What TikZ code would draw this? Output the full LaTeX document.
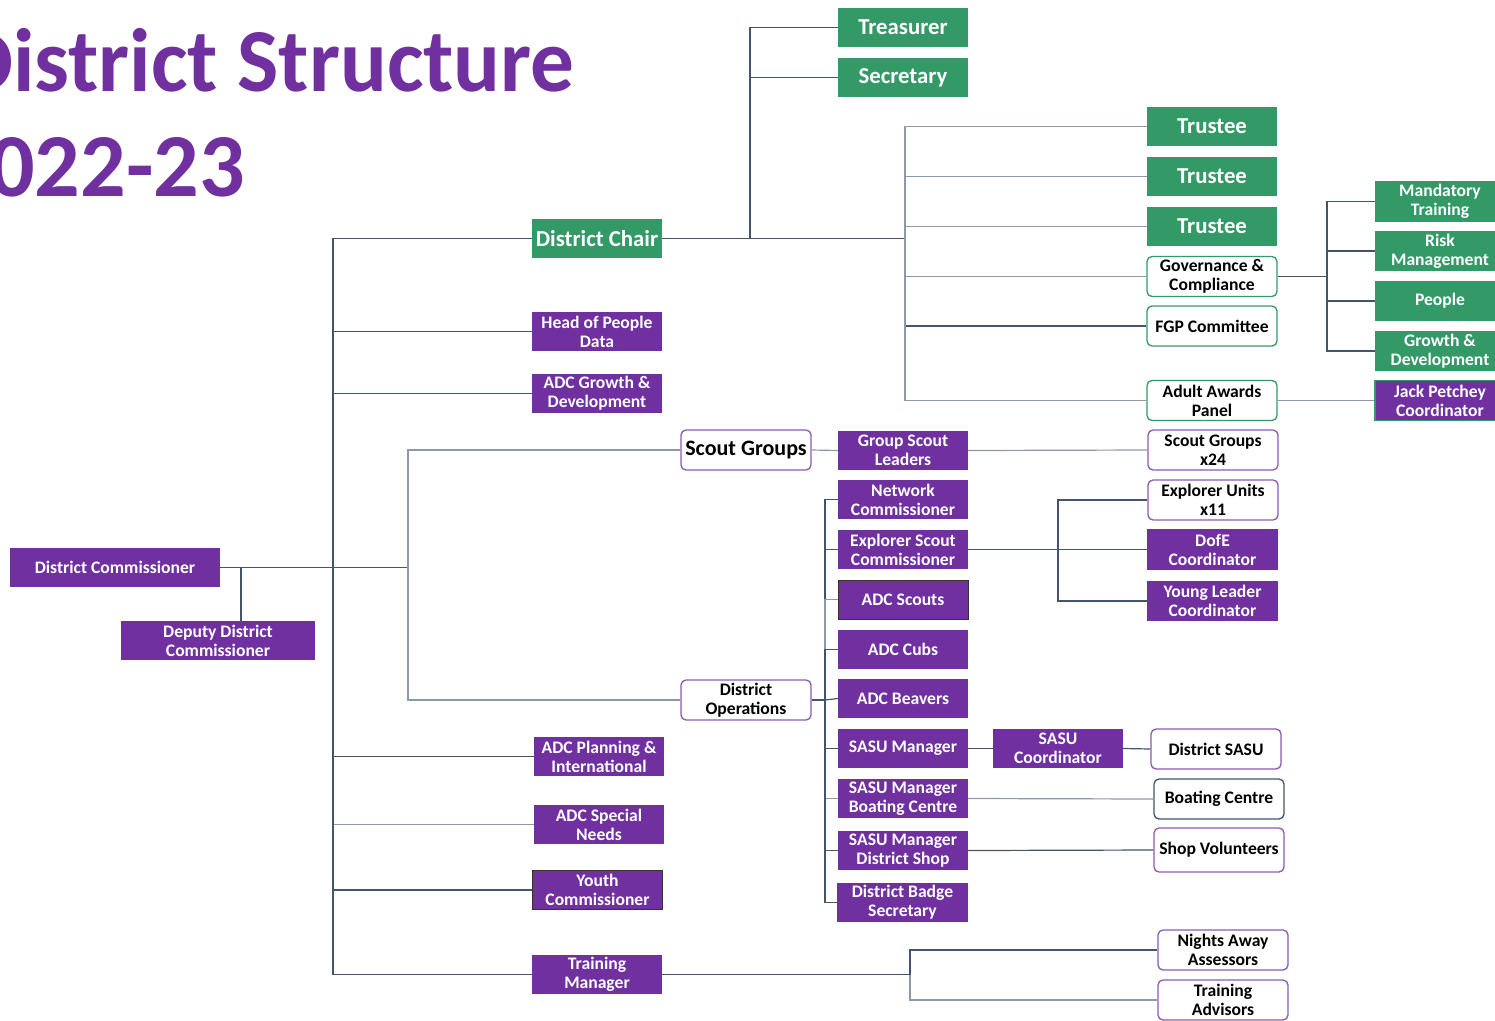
\documentclass[tikz,border=0pt]{standalone}
\usepackage{fontspec}
\setmainfont{Carlito}
\usepackage{xcolor}
\usetikzlibrary{positioning}

\definecolor{scoutpurple}{HTML}{7030A0}
\definecolor{scoutgreen}{HTML}{339966}
\definecolor{linkdark}{HTML}{44546A}
\definecolor{linkgrey}{HTML}{8C99AA}

\tikzset{
  box/.style={minimum width=130, minimum height=39, inner sep=0pt, align=center,
    font=\bfseries\fontsize{17.6}{19}\selectfont},
  role/.style={box, fill=scoutpurple, text=white},
  rolelined/.style={role, draw=black!80, line width=1pt},
  board/.style={box, fill=scoutgreen, text=white},
  boardbig/.style={board, font=\bfseries\fontsize{22.8}{24}\selectfont},
  unit/.style={box, fill=white, draw=scoutpurple!80, line width=1.3pt, rounded corners=5pt, text=black, minimum height=40},
  unitgreen/.style={unit, draw=scoutgreen},
  link/.style={draw=linkdark, line width=1.2pt},
  linklight/.style={draw=linkgrey, line width=1.2pt}
}

\begin{document}
\begin{tikzpicture}[x=1pt,y=-1pt]
\useasboundingbox (0,0) rectangle (1495,1020);
\clip (0,0) rectangle (1495,1020);

% title
\node[anchor=base east, inner sep=0pt, text=scoutpurple, font=\bfseries\fontsize{90}{105}\selectfont] (title) at (575,91) {\scalebox{0.97}[1]{District Structure}};
\node[anchor=base east, inner sep=0pt, text=scoutpurple, font=\bfseries\fontsize{90}{105}\selectfont] (year) at (245,196) {2022-23};

% commissioner
\node[role, minimum width=210] (dc) at (115,567.5) {District Commissioner};
\node[role, minimum width=194] (ddc) at (218,640.5) {Deputy District\\Commissioner};

% chair and board
\node[boardbig] (chair) at (597,238.5) {District Chair};
\node[boardbig] (treas) at (903,27.5) {Treasurer};
\node[boardbig] (sec) at (903,77.5) {Secretary};
\node[boardbig] (trustA) at (1212,126.5) {Trustee};
\node[boardbig] (trustB) at (1212,176.5) {Trustee};
\node[boardbig] (trustC) at (1212,226.5) {Trustee};
\node[unitgreen] (gov) at (1212,276.5) {Governance \&\\Compliance};
\node[unitgreen] (fgp) at (1212,326) {FGP Committee};
\node[unitgreen] (awards) at (1212,400.5) {Adult Awards\\Panel};
\node[board, minimum height=41] (mand) at (1440,201.5) {Mandatory\\Training};
\node[board, minimum height=40] (risk) at (1440,251) {Risk\\Management};
\node[board, minimum height=40] (people) at (1440,301) {People};
\node[board, minimum height=40] (growth) at (1440,351) {Growth \&\\Development};
\node[role, draw=scoutgreen, line width=1.3pt, minimum height=40] (jack) at (1440,400.5) {Jack Petchey\\Coordinator};

% left column
\node[role] (headpd) at (597,331.5) {Head of People\\Data};
\node[role] (adcgd) at (597,393.5) {ADC Growth \&\\Development};
\node[role] (adcpi) at (599,756.5) {ADC Planning \&\\International};
\node[role] (adcsn) at (599,824.5) {ADC Special\\Needs};
\node[rolelined] (youth) at (597.5,890) {Youth\\Commissioner};
\node[role] (trainmgr) at (597,974.5) {Training\\Manager};

% scout groups and operations
\node[unit, font=\bfseries\fontsize{22}{24}\selectfont] (groups) at (746,450) {Scout Groups};
\node[unit] (ops) at (746,700) {District\\Operations};
\node[role] (gsl) at (903,450.5) {Group Scout\\Leaders};
\node[unit] (groupsx) at (1213,450) {Scout Groups\\x24};
\node[role] (netc) at (903,499.5) {Network\\Commissioner};
\node[role] (expc) at (903,549.5) {Explorer Scout\\Commissioner};
\node[unit] (units) at (1213,500) {Explorer Units\\x11};
\node[role, minimum width=131, minimum height=41] (dofe) at (1212.5,549.5) {DofE\\Coordinator};
\node[role, minimum width=131, minimum height=40] (ylc) at (1212.5,601) {Young Leader\\Coordinator};
\node[rolelined] (adcs) at (903,599.5) {ADC Scouts};
\node[role] (adcc) at (903,649.5) {ADC Cubs};
\node[role] (adcb) at (903,698.5) {ADC Beavers};
\node[role] (sasum) at (903,748.5) {SASU Manager};
\node[role] (sasuc) at (1058,748.5) {SASU\\Coordinator};
\node[unit] (dsasu) at (1216,749) {District SASU};
\node[role] (sasub) at (903,798.5) {SASU Manager\\Boating Centre};
\node[unit, draw=linkdark] (boat) at (1219,799) {Boating Centre};
\node[role] (sasus) at (903,850.5) {SASU Manager\\District Shop};
\node[unit, minimum height=44] (shop) at (1219,850) {Shop Volunteers};
\node[role, minimum width=131] (badge) at (902.5,902.5) {District Badge\\Secretary};
\node[unit] (nights) at (1223,950) {Nights Away\\Assessors};
\node[unit] (advisors) at (1223,1000) {Training\\Advisors};

% buses
\coordinate (trunk) at (333,567.5);
\coordinate (dcjoin) at (241,567.5);
\coordinate (scoutbus) at (408,567.5);
\coordinate (tsbus) at (750,238.5);
\coordinate (boardbus) at (905,238.5);
\coordinate (govbus) at (1327,276.5);
\coordinate (opsbus) at (825,700);
\coordinate (expbus) at (1058,549.5);
\coordinate (trainbus) at (910,974.5);

% connectors
\draw[link] (dc.east) -- (scoutbus);
\draw[link, line width=2pt] (dcjoin) -- (dcjoin |- ddc.north);
\draw[link] (trunk) |- (chair.west);
\draw[link] (trunk) |- (headpd.west);
\draw[link] (trunk) |- (adcgd.west);
\draw[link] (trunk) |- (adcpi.west);
\draw[linklight] (trunk) |- (adcsn.west);
\draw[link] (trunk) |- (youth.west);
\draw[link] (trunk) |- (trainmgr.west);
\draw[linklight] (scoutbus) |- (groups.west);
\draw[linklight] (scoutbus) |- (ops.west);

\draw[link] (chair.east) -- (boardbus);
\draw[link] (tsbus) |- (treas.west);
\draw[link] (tsbus) |- (sec.west);
\draw[linklight] (boardbus) |- (trustA.west);
\draw[linklight] (boardbus) |- (trustB.west);
\draw[linklight] (boardbus) |- (trustC.west);
\draw[linklight] (boardbus) |- (gov.west);
\draw[link] (boardbus) |- (fgp.west);
\draw[linklight] (boardbus) |- (awards.west);
\draw[link] (gov.east) -- (govbus);
\draw[link] (govbus) |- (mand.west);
\draw[link] (govbus) |- (risk.west);
\draw[link] (govbus) |- (people.west);
\draw[link] (govbus) |- (growth.west);
\draw[linklight] (awards.east) -- (jack.west);

\draw[linklight] (groups.east) -- (gsl.west);
\draw[linklight] (gsl.east) -- (groupsx.west);
\draw[link] (ops.east) -- (opsbus);
\draw[link] (opsbus) |- (netc.west);
\draw[link] (opsbus) |- (expc.west);
\draw[linklight] (opsbus) |- (adcs.west);
\draw[link] (opsbus) |- (adcc.west);
\draw[link] (opsbus) -- (adcb.west);
\draw[link] (opsbus) |- (sasum.west);
\draw[linklight] (opsbus) |- (sasub.west);
\draw[link] (opsbus) |- (sasus.west);
\draw[link] (opsbus) |- (badge.west);
\draw[link] (expc.east) -- (expbus);
\draw[link] (expbus) |- (units.west);
\draw[link] (expbus) -- (dofe.west);
\draw[link] (expbus) |- (ylc.west);
\draw[link] (sasum.east) -- (sasuc.west);
\draw[link] (sasuc.east) -- (dsasu.west);
\draw[linklight] (sasub.east) -- (boat.west);
\draw[link] (sasus.east) -- (shop.west);
\draw[link] (trainmgr.east) -- (trainbus);
\draw[link] (trainbus) |- (nights.west);
\draw[linklight] (trainbus) |- (advisors.west);
\end{tikzpicture}
\end{document}
